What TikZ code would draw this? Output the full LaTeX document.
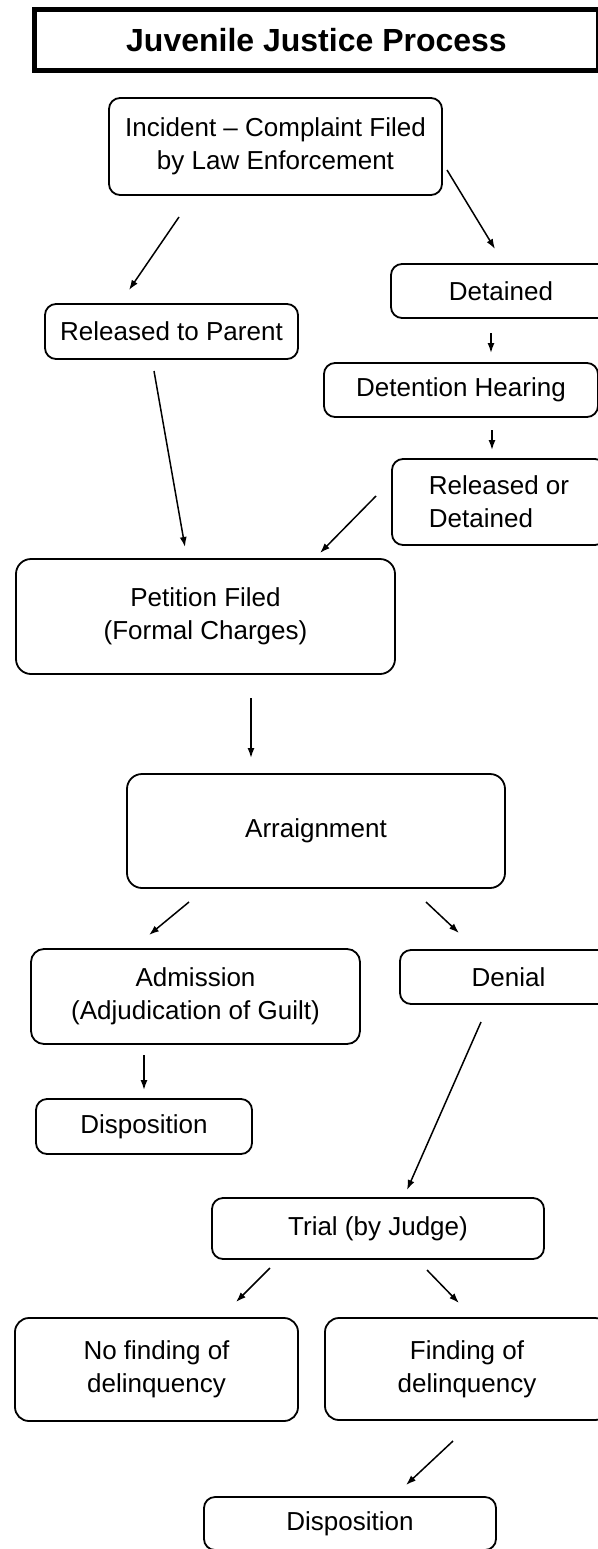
\documentclass[tikz,border=0pt]{standalone}
\usepackage{fontspec}
\setmainfont{Liberation Sans}
\usepackage{tikz}
\usetikzlibrary{
    positioning, % relative placement of nodes
    arrows.meta  % modern arrow tips
}
\tikzset{>={Latex[length=10pt,width=7pt]}}

\begin{document}
\begin{tikzpicture}[x=1pt, y=-1pt,
    stepbox/.style={draw, line width=1.8pt, rounded corners=11pt,
      inner sep=0pt, outer sep=0pt, align=center,
      font=\fontsize{26}{33}\selectfont},
    flow/.style={->, line width=1.5pt}]
  % page = reference size (px read as pt)
  \useasboundingbox (0,0) rectangle (597,1549);

  % ===================== TITLE =====================
  \node[draw, line width=5pt, inner sep=0pt, minimum width=564pt, minimum height=61pt,
        font=\bfseries\fontsize{32}{38}\selectfont] (title) at (316.5,40) {Juvenile Justice Process};

  % ===================== BOXES =====================
  \node[stepbox, minimum width=333pt, minimum height=97pt] (inc) at (275.5,146.5)
        {Incident – Complaint Filed\\by Law Enforcement};
  \node[stepbox, minimum width=253pt, minimum height=55pt] (rtp) at (171.5,331.5) {Released to Parent};
  \node[stepbox, minimum width=220pt, minimum height=54pt] (det) at (501,291) {Detained};
  \node[stepbox, minimum width=274pt, minimum height=54pt] (dh) at (461,390) {Detention Hearing};
  \node[stepbox, align=left, minimum width=214pt, minimum height=86pt] (rod) at (499,502)
        {Released or\\Detained};
  \node[stepbox, rounded corners=15pt, minimum width=379pt, minimum height=115pt] (pet) at (205.5,616.5)
        {Petition Filed\\(Formal Charges)};
  \node[stepbox, rounded corners=15pt, minimum width=378pt, minimum height=114pt] (arr) at (316,831) {Arraignment};
  \node[stepbox, rounded corners=13pt, minimum width=329pt, minimum height=95pt] (adm) at (195.5,996.5)
        {Admission\\(Adjudication of Guilt)};
  \node[stepbox, minimum width=217pt, minimum height=54pt] (den) at (508.5,977) {Denial};
  \node[stepbox, minimum width=216pt, minimum height=55pt] (dis1) at (144,1126.5) {Disposition};
  \node[stepbox, minimum width=332pt, minimum height=61pt] (trial) at (378,1228.5) {Trial (by Judge)};
  \node[stepbox, rounded corners=14pt, minimum width=283pt, minimum height=103pt] (nof) at (156.5,1369.5)
        {No finding of\\delinquency};
  \node[stepbox, rounded corners=14pt, minimum width=284pt, minimum height=102pt] (fin) at (467,1369)
        {Finding of\\delinquency};
  \node[stepbox, minimum width=292pt, minimum height=53pt] (dis2) at (350,1523.5) {Disposition};

  % ===================== ARROW ENDS =====================
  % arrows float between the boxes, so their ends are named points
  \coordinate (inc-l) at (179,217);   \coordinate (rtp-in) at (129,290);
  \coordinate (inc-r) at (447,170);   \coordinate (det-in) at (495,249);
  \coordinate (det-out) at (491,333); \coordinate (dh-in) at (491,353);
  \coordinate (dh-out) at (492,430);  \coordinate (rod-in) at (492,450);
  \coordinate (rtp-out) at (154,371); \coordinate (pet-l) at (185,547);
  \coordinate (rod-out) at (376,496); \coordinate (pet-r) at (320,553);
  \coordinate (pet-out) at (251,698); \coordinate (arr-in) at (251,758);
  \coordinate (arr-l) at (189,902);   \coordinate (adm-in) at (149,935);
  \coordinate (arr-r) at (426,902);   \coordinate (den-in) at (459,933);
  \coordinate (adm-out) at (144,1055); \coordinate (dis1-in) at (144,1090);
  \coordinate (den-out) at (481,1022); \coordinate (trial-in) at (407,1190);
  \coordinate (trial-l) at (270,1268); \coordinate (nof-in) at (236,1302);
  \coordinate (trial-r) at (427,1270); \coordinate (fin-in) at (459,1303);
  \coordinate (fin-out) at (453,1441); \coordinate (dis2-in) at (406,1485);

  % ===================== ARROWS =====================
  \draw[flow] (inc-l) -- (rtp-in);
  \draw[flow] (inc-r) -- (det-in);
  \draw[flow] (det-out) -- (dh-in);
  \draw[flow] (dh-out) -- (rod-in);
  \draw[flow] (rtp-out) -- (pet-l);
  \draw[flow] (rod-out) -- (pet-r);
  \draw[flow] (pet-out) -- (arr-in);
  \draw[flow] (arr-l) -- (adm-in);
  \draw[flow] (arr-r) -- (den-in);
  \draw[flow] (adm-out) -- (dis1-in);
  \draw[flow] (den-out) -- (trial-in);
  \draw[flow] (trial-l) -- (nof-in);
  \draw[flow] (trial-r) -- (fin-in);
  \draw[flow] (fin-out) -- (dis2-in);
\end{tikzpicture}
\end{document}
